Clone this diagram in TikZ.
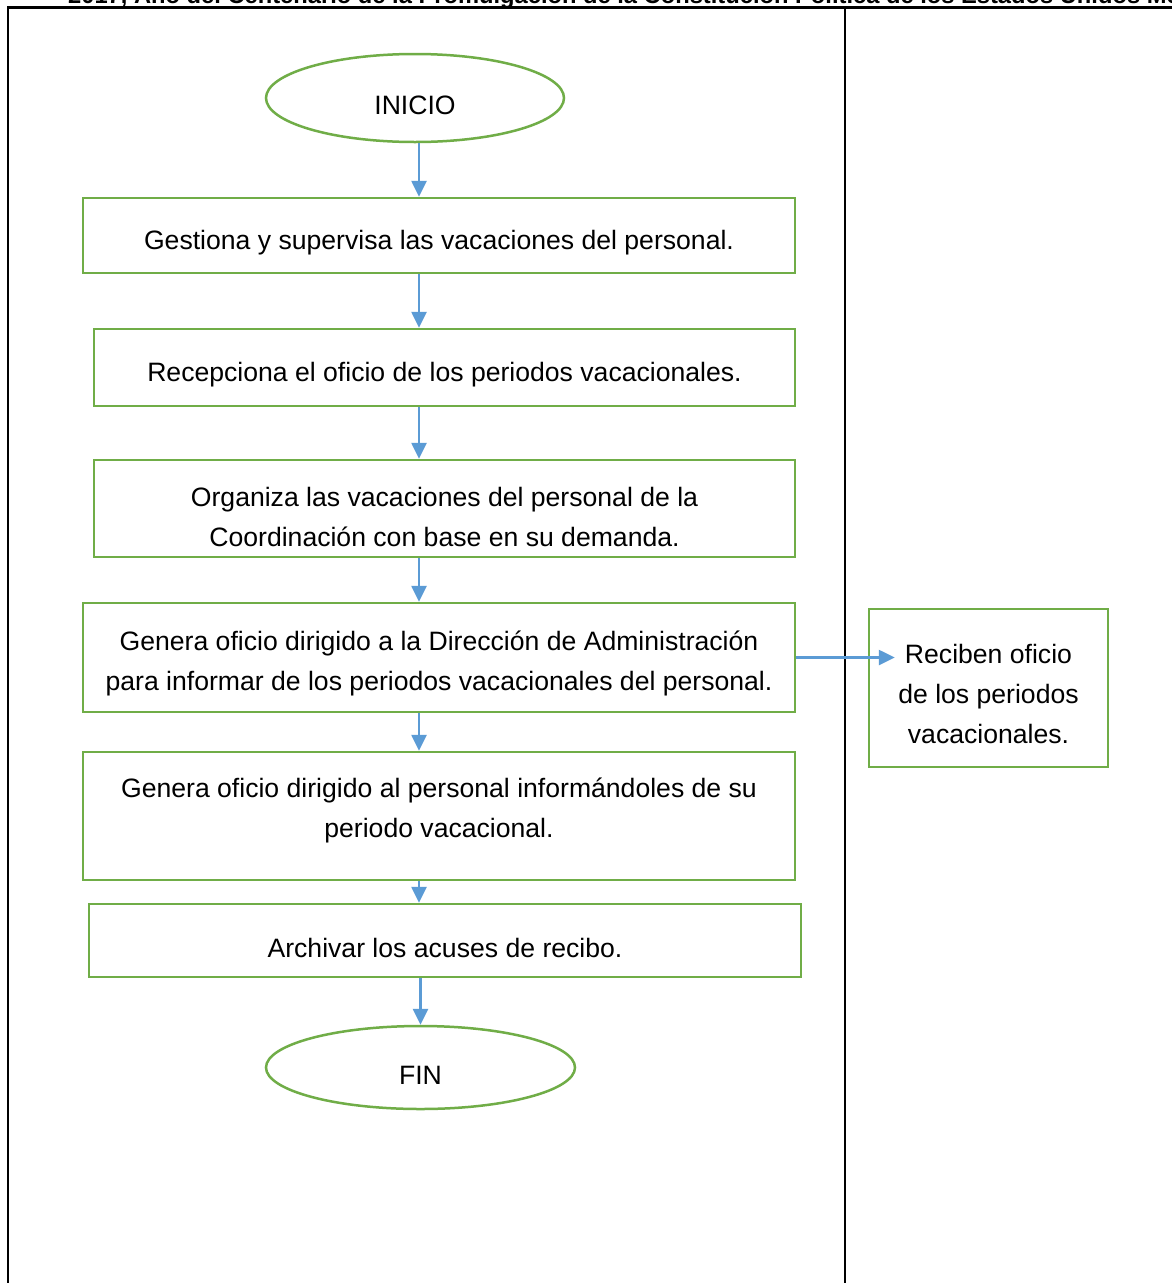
\documentclass[tikz,border=0pt]{standalone}
\usepackage{fontspec}
\setmainfont{Liberation Sans}
\usetikzlibrary{shapes.geometric,arrows.meta}
\definecolor{verde}{HTML}{70AD47}
\definecolor{azul}{HTML}{5B9BD5}
\tikzset{
  bajar/.style = {execute at begin node = {\rule{0pt}{#1}}},
  caja/.style = {draw = verde, line width = 2.5pt, rectangle, align = center, inner sep = 0pt,
                 font = \fontsize{26.6}{40}\selectfont, bajar = 34pt},
  terminal/.style = {draw = verde, line width = 2.5pt, ellipse, inner sep = 0pt,
                     font = \fontsize{26.6}{40}\selectfont, bajar = 33pt},
  flecha/.style = {draw = azul, line width = 2.6pt, -{Triangle[length = 16pt, width = 15pt]}},
  marco/.style = {draw = black, line width = 2.2pt}
}
\begin{document}
\begin{tikzpicture}[x = 1pt, y = -1pt]
      \useasboundingbox (0,0) rectangle (1172,1283);
      \clip (0,0) rectangle (1172,1283);
      \fill [white] (0,0) rectangle (1172,1283);
      \node [anchor = base west, inner sep = 0pt, font = \fontsize{23.7}{28}\selectfont\bfseries] (lema) at (68,3)
        {2017, Año del Centenario de la Promulgación de la Constitución Política de los Estados Unidos Mexicanos};
      \draw [marco] (8,1283) -- (8,7.5) -- (1172,7.5);
      \draw [marco] (845,7.5) -- (845,1283);
      \coordinate (eje) at (419,0);
      \node [terminal, minimum width = 298pt, minimum height = 88pt] (inicio) at (415,98) {INICIO};
      \node [caja, minimum width = 712pt, minimum height = 75pt] (gestiona) at (439,235.5)
        {Gestiona y supervisa las vacaciones del personal.};
      \node [caja, minimum width = 701pt, minimum height = 77pt] (recepciona) at (444.5,367.5)
        {Recepciona el oficio de los periodos vacacionales.};
      \node [caja, bajar = 76pt, minimum width = 701pt, minimum height = 97pt] (organiza) at (444.5,508.5)
        {Organiza las vacaciones del personal de la\\ Coordinación con base en su demanda.};
      \node [caja, bajar = 72pt, minimum width = 712pt, minimum height = 109pt] (generaDir) at (439,657.5)
        {Genera oficio dirigido a la Dirección de Administración\\ para informar de los periodos vacacionales del personal.};
      \node [caja, bajar = 102pt, minimum width = 712pt, minimum height = 128pt] (generaPer) at (439,816)
        {Genera oficio dirigido al personal informándoles de su\\ periodo vacacional.\\[-10pt] ~};
      \node [caja, minimum width = 712pt, minimum height = 73pt] (archivar) at (445,940.5)
        {Archivar los acuses de recibo.};
      \node [terminal, minimum width = 309pt, minimum height = 83pt] (fin) at (420.5,1067.5) {FIN};
      \node [caja, bajar = 112pt, minimum width = 239pt, minimum height = 158pt] (reciben) at (988.5,688)
        {Reciben oficio\\ de los periodos\\ vacacionales.};
      \draw [flecha] (inicio.south -| eje) -- (gestiona.north -| eje);
      \draw [flecha] (gestiona.south -| eje) -- (recepciona.north -| eje);
      \draw [flecha] (recepciona.south -| eje) -- (organiza.north -| eje);
      \draw [flecha] (organiza.south -| eje) -- (generaDir.north -| eje);
      \draw [flecha] (generaDir.south -| eje) -- (generaPer.north -| eje);
      \draw [flecha] (generaPer.south -| eje) -- (archivar.north -| eje);
      \draw [flecha] (archivar.south -| fin.north) -- (fin.north);
      \draw [flecha] (generaDir.east) -- ([xshift = 27pt]reciben.west |- generaDir.east);
\end{tikzpicture}
\end{document}
